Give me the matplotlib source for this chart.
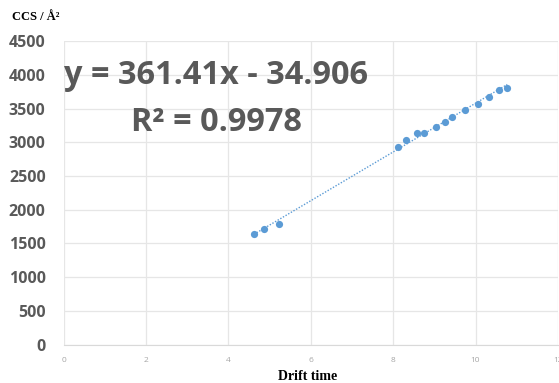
import matplotlib
matplotlib.use("Agg")
import matplotlib.pyplot as plt
import numpy as np

# Drift time vs collision cross section
drift_time = [4.62, 4.87, 5.23, 8.11, 8.32, 8.59, 8.76, 9.04, 9.25, 9.42,
              9.75, 10.05, 10.32, 10.57, 10.77]
ccs = [1640, 1714, 1783, 2930, 3034, 3134, 3138, 3227, 3301, 3375,
       3479, 3568, 3677, 3780, 3810]

slope = 361.41
intercept = -34.906
r_squared = 0.9978

x_ticks = [0, 2, 4, 6, 8, 10, 12]
y_ticks = list(range(0, 4501, 500))

fig = plt.figure(figsize=(5.59, 3.83), dpi=100)
ax = fig.add_axes([0.114, 0.1005, 0.884, 0.792])

ax.set_xlim(0, 12)
ax.set_ylim(0, 4500)
ax.set_xticks(x_ticks)
ax.set_yticks(y_ticks)
ax.grid(True, color="#e6e6e6", linewidth=0.9)
ax.set_axisbelow(True)
for side in ["top", "right", "left"]:
    ax.spines[side].set_visible(False)
ax.spines["bottom"].set_color("#d9d9d9")
ax.tick_params(length=0)
ax.tick_params(axis="y", labelsize=11.5, labelcolor="#595959", pad=13)
ax.tick_params(axis="x", labelsize=6, labelcolor="#a6a6a6", pad=9)
for lab in ax.get_yticklabels():
    lab.set_fontweight("bold")
    lab.set_family("Open Sans")
for lab in ax.get_xticklabels():
    lab.set_family("Open Sans")

# Linear trendline across the data range
xs = np.array([min(drift_time), max(drift_time)])
ax.plot(xs, slope * xs + intercept, linestyle=(0, (1, 1.2)), color="#5b9bd5",
        linewidth=1.0, zorder=2)
ax.plot(drift_time, ccs, "o", color="#5b9bd5", markersize=5.2,
        markeredgewidth=0, zorder=3)

ax.text(0.005, 3985, f"y = {slope}x - {abs(intercept)}", fontsize=23.4,
        fontweight="bold", color="#595959", family="Open Sans", va="center")
ax.text(3.7, 3300, f"R² = {r_squared}", fontsize=23.4, fontweight="bold",
        color="#595959", family="Open Sans", va="center", ha="center")

fig.text(0.021, 0.955, "CCS / Å²", fontsize=9, fontweight="bold",
         family="Liberation Serif", va="center", ha="left")
fig.text(0.551, 0.018, "Drift time", fontsize=10, fontweight="bold",
         family="Liberation Serif", va="center", ha="center")

fig.savefig("out.png", dpi=100)
